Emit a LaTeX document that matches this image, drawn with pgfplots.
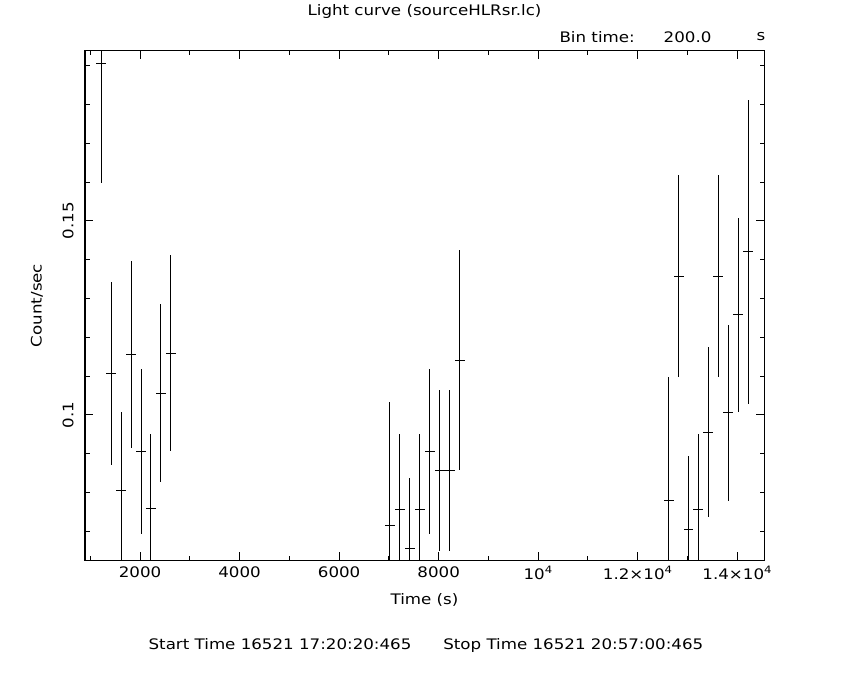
\documentclass[border=0pt]{standalone}
\usepackage{pgfplots}
\pgfplotsset{compat=1.18}
\usepackage{pgfplotstable}
\usepackage{fontspec}
\setmainfont[FakeStretch=1.15]{DejaVu Sans}

% rate per 200 s bin, with its error
\pgfplotstableread{
t      r       ex   ey
1220   0.1906  100  0.0309
1420   0.1107  100  0.0235
1620   0.0806  100  0.0202
1820   0.1156  100  0.0241
2020   0.0906  100  0.0212
2220   0.0758  100  0.0194
2420   0.1056  100  0.0230
2620   0.1159  100  0.0252
7020   0.0716  100  0.0317
7220   0.0757  100  0.0194
7420   0.0656  100  0.0181
7620   0.0757  100  0.0194
7820   0.0906  100  0.0212
8020   0.0857  100  0.0207
8220   0.0857  100  0.0207
8420   0.1141  100  0.0284
12620  0.0780  100  0.0317
12820  0.1358  100  0.0260
13020  0.0705  100  0.0189
13220  0.0757  100  0.0194
13420  0.0955  100  0.0219
13620  0.1358  100  0.0260
13820  0.1006  100  0.0227
14020  0.1258  100  0.0250
14220  0.1420  100  0.0391
}\lc

\begin{document}
\begin{tikzpicture}[font=\fontsize{14.5}{17}\selectfont]
\useasboundingbox (-85pt,-120pt) rectangle (765pt,560pt);
\begin{axis}[
  at={(0,0)}, anchor=south west,
  scale only axis, width=679pt, height=509pt,
  xmin=894, xmax=14537, ymin=0.0626, ymax=0.1938,
  axis line style={line width=1pt},
  every tick/.style={black, line width=1pt},
  tick align=inside, xtick pos=both, ytick pos=both,
  major tick length=8pt, minor tick length=4.5pt,
  scaled x ticks=false, scaled y ticks=false,
  xtick={2000,4000,6000,8000,10000,12000,14000},
  xticklabels={2000,4000,6000,8000,10\textsuperscript{4},1.2×10\textsuperscript{4},1.4×10\textsuperscript{4}},
  minor xtick={1000,3000,5000,7000,9000,11000,13000},
  ytick={0.1,0.15}, yticklabels={0.1,0.15},
  minor ytick={0.07,0.08,0.09,0.11,0.12,0.13,0.14,0.16,0.17,0.18,0.19},
  tick label style={font=\fontsize{14.5}{17}\selectfont},
  xticklabel shift=3pt,
  yticklabel style={rotate=90, anchor=south},
  yticklabel shift=8pt,
]
\addplot[mark=none, draw=none,
  error bars/.cd, x dir=both, x explicit, y dir=both, y explicit,
  error mark=none, error bar style={draw=black, line width=1pt}]
  table[x=t, y=r, x error=ex, y error=ey] {\lc};
\end{axis}
\node at (339.5pt,548pt) {Light curve (sourceHLRsr.lc)};
\node[anchor=west] at (471pt,523pt) {Bin time:};
\node[anchor=east] at (630pt,523pt) {200.0};
\node at (676pt,523pt) {s};
\node at (339.5pt,-40pt) {Time (s)};
\node[rotate=90] at (-48pt,254.5pt) {Count/sec};
\node at (341pt,-85pt) {Start Time 16521 17:20:20:465\hspace{2.2em}Stop Time 16521 20:57:00:465};
\end{tikzpicture}
\end{document}
